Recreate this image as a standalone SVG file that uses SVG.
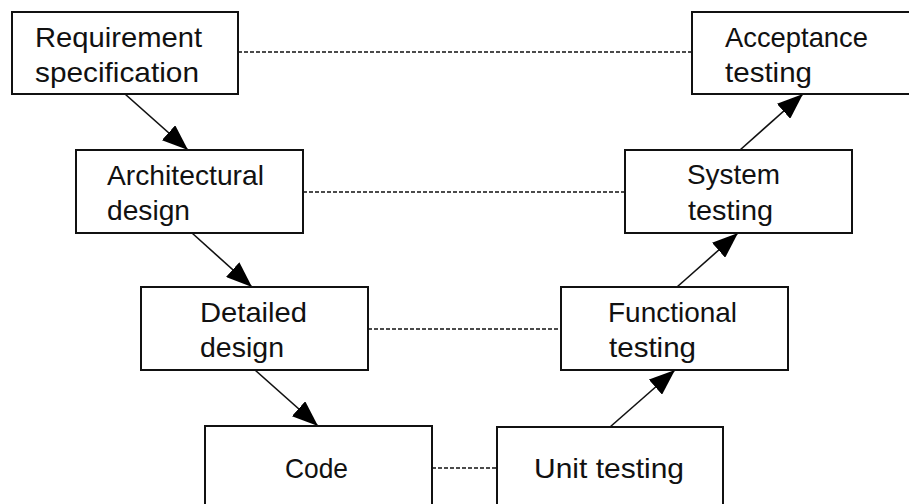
<svg xmlns="http://www.w3.org/2000/svg" width="909" height="504" viewBox="0 0 909 504">
  <defs>
    <marker id="arrow" markerUnits="userSpaceOnUse" markerWidth="26" markerHeight="20" refX="26" refY="10" orient="auto">
      <path d="M0,0 L26,10 L0,20 Z" fill="#000"/>
    </marker>
    <style>
      .box { fill: #fff; stroke: #111; stroke-width: 2; }
      .lbl { font-family: "Liberation Sans", "DejaVu Sans", sans-serif; font-size: 28px; fill: #111; }
      .dash { stroke: #111; stroke-width: 1.5; stroke-dasharray: 4 2; fill: none; }
      .flow { stroke: #111; stroke-width: 1.6; fill: none; marker-end: url(#arrow); }
    </style>
  </defs>

  <rect width="909" height="504" fill="#fff"/>

  <!-- connectors: phase links (dashed) and flow arrows -->
  <g id="connectors">
    <line class="dash" x1="238" y1="52" x2="692" y2="52"/>
    <line class="dash" x1="303" y1="192" x2="625" y2="192"/>
    <line class="dash" x1="368" y1="329" x2="561" y2="329"/>
    <line class="dash" x1="432" y1="468" x2="497" y2="468"/>

    <line class="flow" x1="125" y1="94" x2="188" y2="150"/>
    <line class="flow" x1="192" y1="233" x2="252" y2="287"/>
    <line class="flow" x1="255" y1="370" x2="318" y2="426"/>
    <line class="flow" x1="610" y1="427" x2="675" y2="370"/>
    <line class="flow" x1="677" y1="287" x2="738" y2="233"/>
    <line class="flow" x1="740" y1="150" x2="803" y2="94"/>
  </g>

  <g id="requirement">
    <rect class="box" x="12" y="12" width="226" height="82"/>
    <text class="lbl" x="35" y="47" textLength="167" lengthAdjust="spacingAndGlyphs">Requirement</text>
    <text class="lbl" x="35" y="82" textLength="164" lengthAdjust="spacingAndGlyphs">specification</text>
  </g>

  <g id="architectural">
    <rect class="box" x="76" y="150" width="227" height="83"/>
    <text class="lbl" x="107" y="185" textLength="157" lengthAdjust="spacingAndGlyphs">Architectural</text>
    <text class="lbl" x="107" y="220" textLength="83" lengthAdjust="spacingAndGlyphs">design</text>
  </g>

  <g id="detailed">
    <rect class="box" x="141" y="287" width="227" height="83"/>
    <text class="lbl" x="200" y="322" textLength="107" lengthAdjust="spacingAndGlyphs">Detailed</text>
    <text class="lbl" x="200" y="357" textLength="84" lengthAdjust="spacingAndGlyphs">design</text>
  </g>

  <g id="code">
    <rect class="box" x="205" y="426" width="227" height="90"/>
    <text class="lbl" x="285" y="478" textLength="63" lengthAdjust="spacingAndGlyphs">Code</text>
  </g>

  <g id="unit">
    <rect class="box" x="497" y="427" width="226" height="90"/>
    <text class="lbl" x="534" y="478" textLength="150" lengthAdjust="spacingAndGlyphs">Unit testing</text>
  </g>

  <g id="functional">
    <rect class="box" x="561" y="287" width="227" height="83"/>
    <text class="lbl" x="608" y="322" textLength="129" lengthAdjust="spacingAndGlyphs">Functional</text>
    <text class="lbl" x="609" y="357" textLength="87" lengthAdjust="spacingAndGlyphs">testing</text>
  </g>

  <g id="system">
    <rect class="box" x="625" y="150" width="227" height="83"/>
    <text class="lbl" x="687" y="184" textLength="93" lengthAdjust="spacingAndGlyphs">System</text>
    <text class="lbl" x="688" y="220" textLength="85" lengthAdjust="spacingAndGlyphs">testing</text>
  </g>

  <g id="acceptance">
    <rect class="box" x="692" y="12" width="227" height="82"/>
    <text class="lbl" x="725" y="47" textLength="143" lengthAdjust="spacingAndGlyphs">Acceptance</text>
    <text class="lbl" x="725" y="82" textLength="87" lengthAdjust="spacingAndGlyphs">testing</text>
  </g>
</svg>
